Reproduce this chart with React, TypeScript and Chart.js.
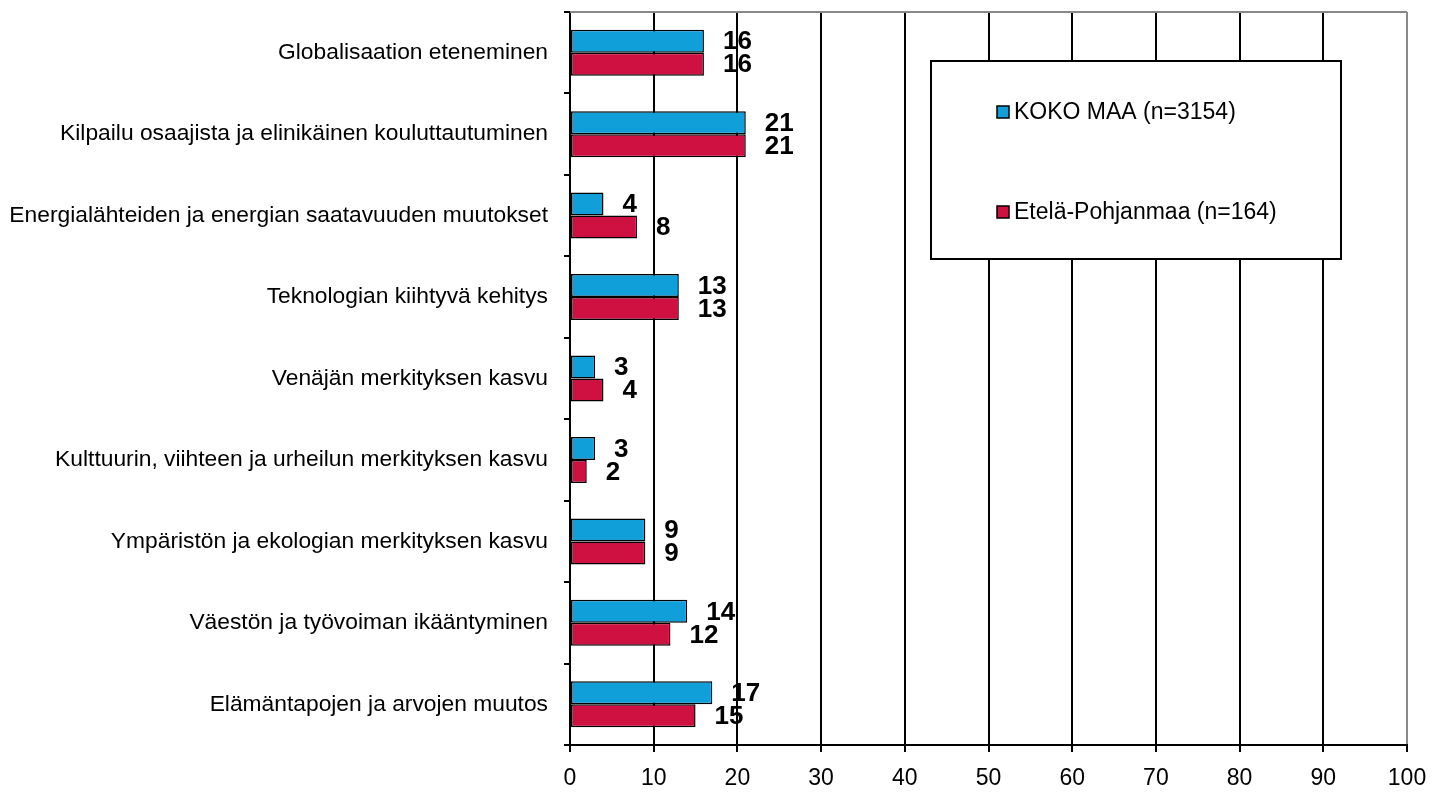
import React, { useEffect, useRef } from "react";
import { Chart, registerables } from "chart.js";

Chart.register(...registerables);

const categories: string[] = [
  "Globalisaation eteneminen",
  "Kilpailu osaajista ja elinikäinen kouluttautuminen",
  "Energialähteiden ja energian saatavuuden muutokset",
  "Teknologian kiihtyvä kehitys",
  "Venäjän merkityksen kasvu",
  "Kulttuurin, viihteen ja urheilun merkityksen kasvu",
  "Ympäristön ja ekologian merkityksen kasvu",
  "Väestön ja työvoiman ikääntyminen",
  "Elämäntapojen ja arvojen muutos",
];

const kokoMaa: number[] = [16, 21, 4, 13, 3, 3, 9, 14, 17];
const etelaPohjanmaa: number[] = [16, 21, 8, 13, 4, 2, 9, 12, 15];

const seriesNames: string[] = ["KOKO MAA (n=3154)", "Etelä-Pohjanmaa (n=164)"];
const xTicks: number[] = [0, 10, 20, 30, 40, 50, 60, 70, 80, 90, 100];

const BLUE = "#109FD8";
const RED = "#CE1140";
const FONT = "'Liberation Sans', Arial, sans-serif";

const extrasPlugin = {
  id: "extras",
  afterDatasetsDraw(chart: any) {
    const ctx = chart.ctx;
    const area = chart.chartArea;
    ctx.save();
    // top border
    ctx.strokeStyle = "#888";
    ctx.lineWidth = 2;
    ctx.beginPath();
    ctx.moveTo(area.left, area.top);
    ctx.lineTo(area.right, area.top);
    ctx.stroke();
    // data labels
    ctx.fillStyle = "#000";
    ctx.font = `bold 26px ${FONT}`;
    ctx.textAlign = "left";
    ctx.textBaseline = "middle";
    chart.data.datasets.forEach((ds: any, di: number) => {
      const meta = chart.getDatasetMeta(di);
      meta.data.forEach((bar: any, i: number) => {
        ctx.fillText(String(ds.data[i]), bar.x + 19, bar.y + 1);
      });
    });
    // legend box
    const bx = 931, by = 61, bw = 410, bh = 198;
    ctx.fillStyle = "#fff";
    ctx.fillRect(bx, by, bw, bh);
    ctx.strokeStyle = "#000";
    ctx.lineWidth = 2;
    ctx.strokeRect(bx, by, bw, bh);
    ctx.font = `23px ${FONT}`;
    const colors = [BLUE, RED];
    const ty = [112, 212];
    seriesNames.forEach((name, k) => {
      ctx.fillStyle = colors[k];
      ctx.fillRect(997, ty[k] - 6, 12, 12);
      ctx.strokeStyle = "#000";
      ctx.lineWidth = 1.5;
      ctx.strokeRect(997, ty[k] - 6, 12, 12);
      ctx.fillStyle = "#000";
      ctx.textAlign = "left";
      ctx.textBaseline = "middle";
      ctx.fillText(name, 1014, ty[k] + 1);
    });
    ctx.restore();
  },
};

export default function App() {
  const ref = useRef<HTMLCanvasElement>(null);
  useEffect(() => {
    if (!ref.current) return;
    const chart = new Chart(ref.current, {
      type: "bar",
      data: {
        labels: categories,
        datasets: [
          {
            label: seriesNames[0],
            data: kokoMaa,
            backgroundColor: BLUE,
            borderColor: "#000",
            borderWidth: 1.5,
            borderSkipped: false,
            categoryPercentage: 0.565,
            barPercentage: 1.0,
          },
          {
            label: seriesNames[1],
            data: etelaPohjanmaa,
            backgroundColor: RED,
            borderColor: "#000",
            borderWidth: 1.5,
            borderSkipped: false,
            categoryPercentage: 0.565,
            barPercentage: 1.0,
          },
        ],
      },
      options: {
        indexAxis: "y",
        animation: false,
        responsive: false,
        maintainAspectRatio: false,
        layout: { padding: { left: 0, top: 12, right: 25, bottom: 0 } },
        plugins: {
          legend: { display: false },
          tooltip: { enabled: false },
        },
        scales: {
          x: {
            min: 0,
            max: 100,
            afterBuildTicks: (scale: any) => {
              scale.ticks = xTicks.map((v) => ({ value: v }));
            },
            afterFit: (scale: any) => {
              scale.height = 51;
              scale.paddingLeft = 0;
              scale.paddingRight = 0;
            },
            grid: {
              color: (c: any) => (c.tick && c.tick.value === 100 ? "#888" : "#000"),
              lineWidth: 2,
              drawTicks: true,
              tickLength: 7,
              tickColor: "#000",
            },
            border: { color: "#000", width: 2 },
            ticks: {
              color: "#000",
              font: { family: FONT, size: 23 },
              padding: 13,
              maxRotation: 0,
            },
          },
          y: {
            afterFit: (scale: any) => {
              scale.width = 570;
              scale.paddingTop = 0;
              scale.paddingBottom = 0;
            },
            grid: {
              drawOnChartArea: false,
              drawTicks: true,
              tickLength: 6,
              offset: true,
              color: "#000",
              lineWidth: 2,
            },
            border: { color: "#000", width: 2 },
            ticks: {
              color: "#000",
              font: { family: FONT, size: 22.8 },
              padding: 16,
            },
          },
        },
      },
      plugins: [extrasPlugin],
    });
    return () => chart.destroy();
  }, []);
  return (
    <div style={{ position: "fixed", left: 0, top: 0, width: 1432, height: 796, background: "#fff" }}>
      <canvas ref={ref} width={1432} height={796} style={{ width: 1432, height: 796 }} />
    </div>
  );
}
